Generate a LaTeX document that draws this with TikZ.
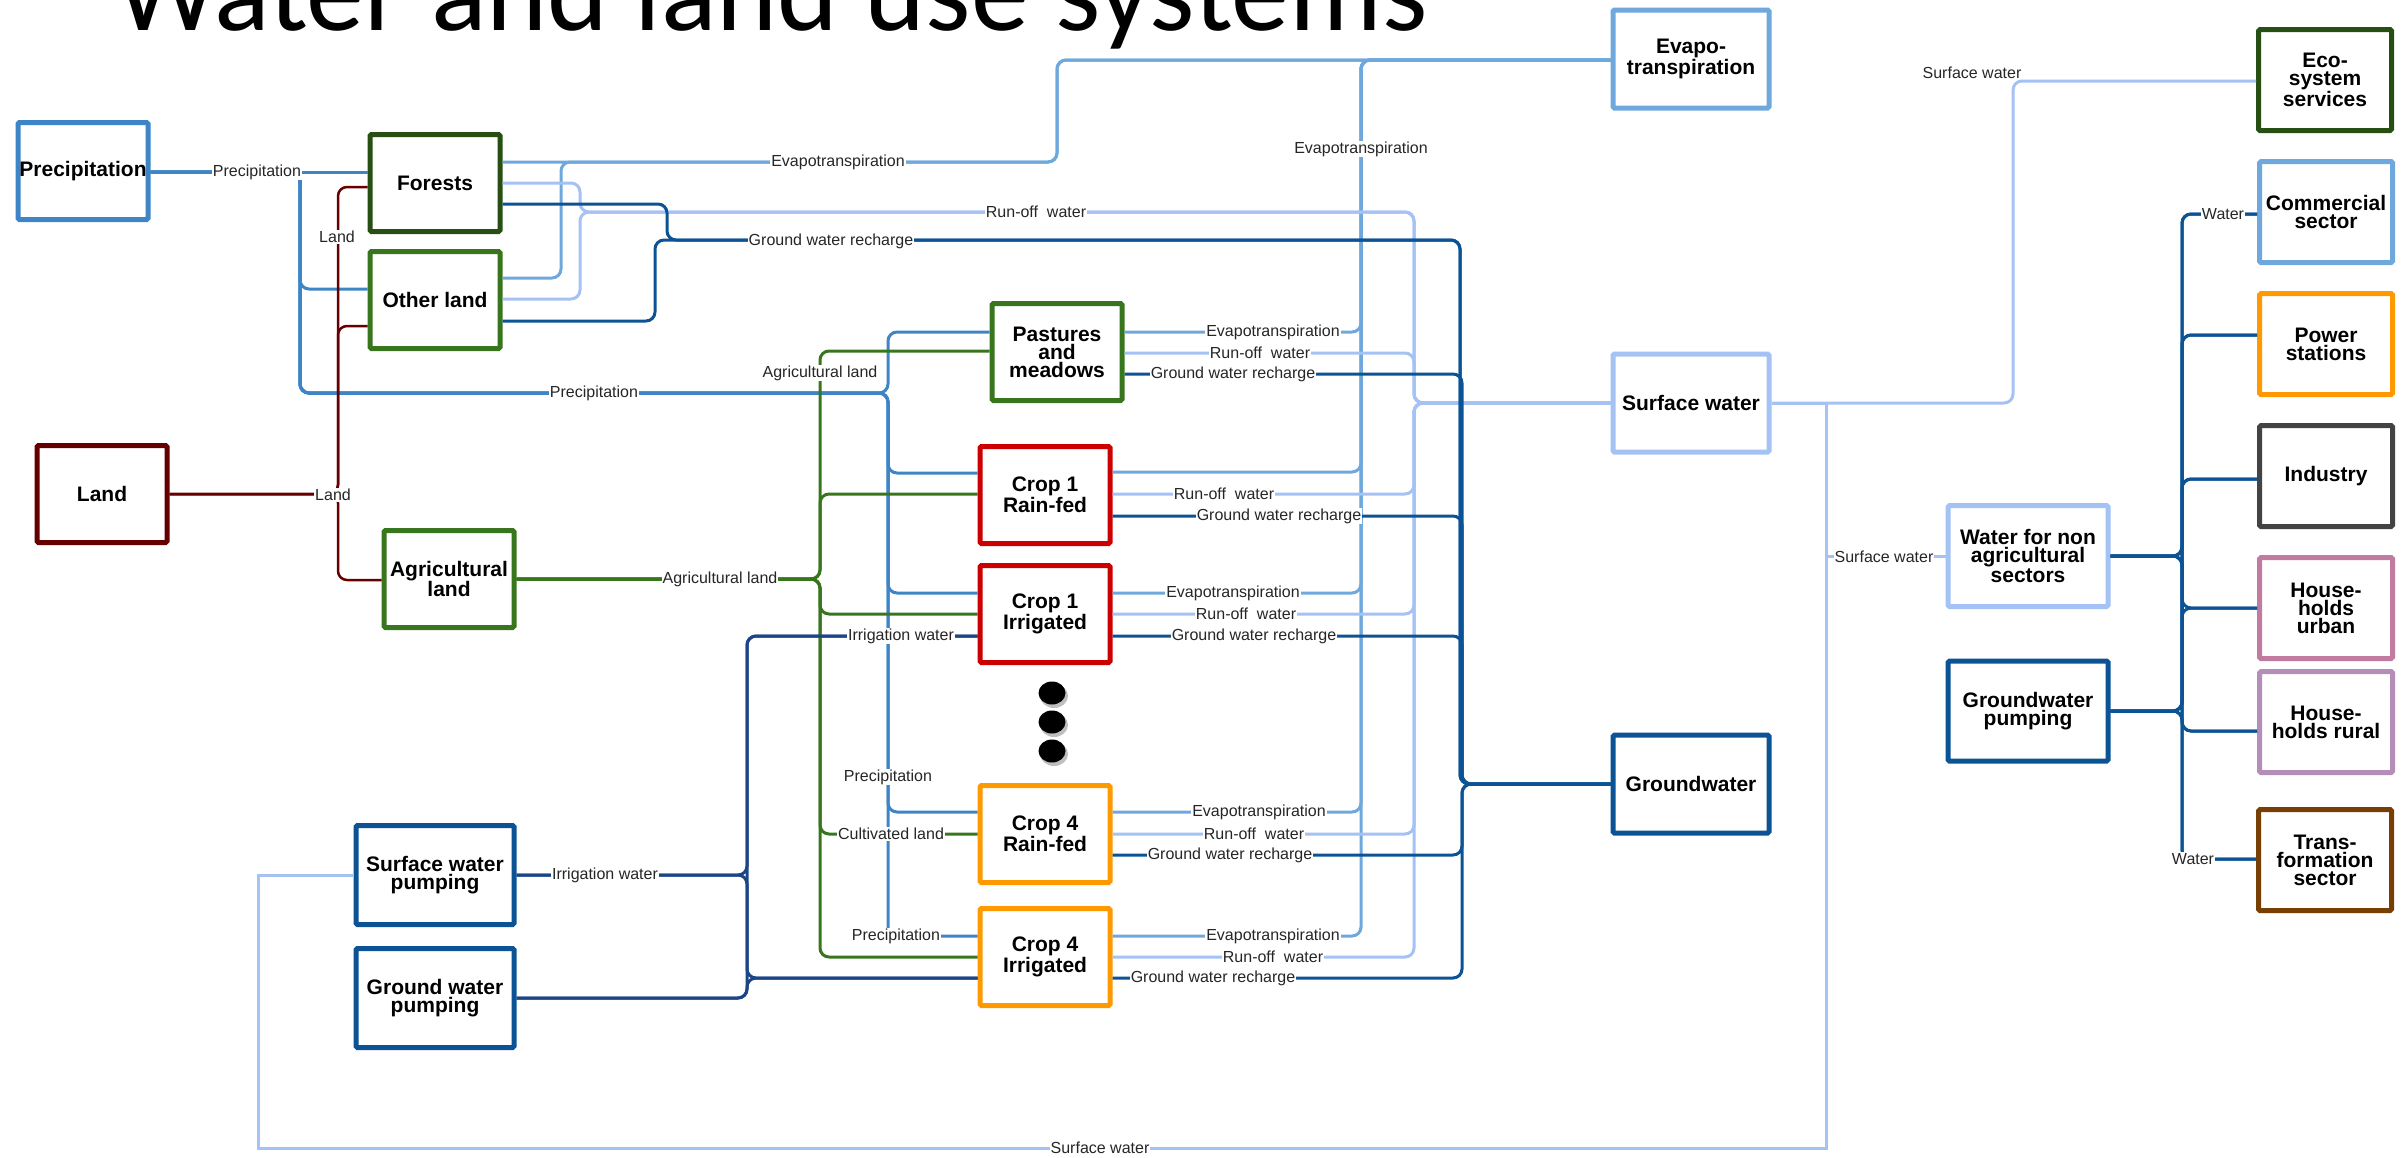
\documentclass[tikz,border=0pt]{standalone}
\usepackage{fontspec}
\setmainfont{Liberation Sans}
\newfontfamily\titlefont{Carlito}
\usepackage{xcolor}
\usepackage{tikz}
\definecolor{precipblue}{RGB}{61,133,198}
\definecolor{evapblue}{RGB}{111,168,220}
\definecolor{runoffblue}{RGB}{164,194,244}
\definecolor{gwblue}{RGB}{11,83,148}
\definecolor{irrigblue}{RGB}{28,69,135}
\definecolor{landred}{RGB}{102,0,0}
\definecolor{aggreen}{RGB}{56,118,29}
\definecolor{forestgreen}{RGB}{39,78,19}
\definecolor{cropred}{RGB}{204,0,0}
\definecolor{croporange}{RGB}{255,153,0}
\definecolor{industrygray}{RGB}{67,67,67}
\definecolor{urbanpink}{RGB}{194,123,160}
\definecolor{ruralmauve}{RGB}{180,142,184}
\definecolor{transbrown}{RGB}{120,63,4}
\newcommand{\boxfont}{\fontsize{21}{18}\selectfont\bfseries}
\newcommand{\lblfont}{\fontsize{16}{16}\selectfont}

\begin{document}
\begin{tikzpicture}[x=1pt, y=-1pt,
    sysbox/.style={draw, line width=5pt, rounded corners=1.5pt, fill=white, align=center, font=\boxfont, minimum width=130pt, minimum height=97pt, inner sep=1pt},
    lbl/.style={fill=white, inner sep=1pt, font=\lblfont, text=black!85},
    flow/.style={line width=3pt, rounded corners=9pt}
]
    \useasboundingbox (0,0) rectangle (2405,1157);
    \clip (0,0) rectangle (2405,1157);

    % Title (cut at the top)
    \node[anchor=base west, inner sep=0pt] (title) at (115,30) {\resizebox{1311pt}{!}{\titlefont Water and land use systems}};

    % Sources
    \node[sysbox, draw=precipblue] (precip) at (83,171) {Precipitation};
    \node[sysbox, draw=landred] (land) at (102,494) {Land};

    % Land cover
    \node[sysbox, draw=forestgreen] (forests) at (435,183) {Forests};
    \node[sysbox, draw=aggreen] (otherland) at (435,300) {Other land};
    \node[sysbox, draw=aggreen] (agland) at (449,579) {Agricultural\\land};

    % Irrigation pumping
    \node[sysbox, draw=gwblue, minimum width=158pt, minimum height=99pt] (swpump) at (435,875) {Surface water\\pumping};
    \node[sysbox, draw=gwblue, minimum width=158pt, minimum height=99pt] (gwpump) at (435,998) {Ground water\\pumping};

    % Land uses
    \node[sysbox, draw=aggreen] (pastures) at (1057,352) {Pastures\\and\\meadows};
    \node[sysbox, draw=cropred] (crop1rf) at (1045,495) {Crop 1\\Rain-fed};
    \node[sysbox, draw=cropred] (crop1irr) at (1045,614) {Crop 1\\Irrigated};
    \node[sysbox, draw=croporange] (crop4rf) at (1045,834) {Crop 4\\Rain-fed};
    \node[sysbox, draw=croporange] (crop4irr) at (1045,957) {Crop 4\\Irrigated};

    % More crops
    \foreach \y in {693, 722, 751} {
        \fill[black, opacity=0.25] (1054,\y+3) ellipse [x radius=14pt, y radius=12pt];
        \fill[black] (1052,\y) ellipse [x radius=13.5pt, y radius=11.5pt];
    }

    % Water balance
    \node[sysbox, draw=evapblue, minimum width=156pt, minimum height=98pt] (evapo) at (1691,59) {Evapo-\\transpiration};
    \node[sysbox, draw=runoffblue, minimum width=156pt, minimum height=98pt] (surfw) at (1691,403) {Surface water};
    \node[sysbox, draw=gwblue, minimum width=156pt, minimum height=98pt] (groundw) at (1691,784) {Groundwater};

    % Non agricultural water
    \node[sysbox, draw=runoffblue, minimum width=160pt, minimum height=101pt] (wnas) at (2028,556) {Water for non\\agricultural\\sectors};
    \node[sysbox, draw=gwblue, minimum width=160pt, minimum height=100pt] (gwpumpr) at (2028,711) {Groundwater\\pumping};

    % Users (right)
    \node[sysbox, draw=forestgreen, minimum width=133pt, minimum height=101pt] (eco) at (2325,80) {Eco-\\system\\services};
    \node[sysbox, draw=evapblue, minimum width=133pt, minimum height=101pt] (commercial) at (2326,212) {Commercial\\sector};
    \node[sysbox, draw=croporange, minimum width=133pt, minimum height=101pt] (power) at (2326,344) {Power\\stations};
    \node[sysbox, draw=industrygray, minimum width=133pt, minimum height=101pt] (industry) at (2326,476) {Industry};
    \node[sysbox, draw=urbanpink, minimum width=133pt, minimum height=101pt] (hhurban) at (2326,608) {House-\\holds\\urban};
    \node[sysbox, draw=ruralmauve, minimum width=133pt, minimum height=101pt] (hhrural) at (2326,722) {House-\\holds rural};
    \node[sysbox, draw=transbrown, minimum width=133pt, minimum height=101pt] (transform) at (2325,860) {Trans-\\formation\\sector};

    % Precipitation
    \draw[flow, precipblue] (precip.east |- 0,172) -- (forests.west |- 0,172);
    \draw[flow, precipblue] (precip.east |- 0,172) -- (300,172) -- (300,289) -- (otherland.west |- 0,289);
    \foreach \n/\y in {pastures/332, crop1rf/473, crop1irr/593, crop4rf/812, crop4irr/936}
        \draw[flow, precipblue] (precip.east |- 0,172) -- (300,172) -- (300,393) -- (888,393) -- (888,\y) -- (\n.west |- 0,\y);

    % Land
    \foreach \n/\y in {forests/187, otherland/326, agland/580}
        \draw[flow, landred, line width=2.5pt] (land.east) -- (338,494) -- (338,\y) -- (\n.west |- 0,\y);

    % Agricultural land
    \foreach \n/\y in {pastures/351, crop1rf/494, crop1irr/614, crop4rf/834, crop4irr/957}
        \draw[flow, aggreen] (agland.east) -- (820,579) -- (820,\y) -- (\n.west |- 0,\y);

    % Irrigation water
    \foreach \src/\ys in {swpump/875, gwpump/998}
        \foreach \tgt/\yt in {crop1irr/636, crop4irr/978}
            \draw[flow, irrigblue] (\src.east |- 0,\ys) -- (747,\ys) -- (747,\yt) -- (\tgt.west |- 0,\yt);

    % Evapotranspiration
    \draw[flow, evapblue] (forests.east |- 0,162) -- (1057,162) -- (1057,60) -- (evapo.west |- 0,60);
    \draw[flow, evapblue] (otherland.east |- 0,278) -- (561,278) -- (561,162) -- (1057,162) -- (1057,60) -- (evapo.west |- 0,60);
    \foreach \n/\y in {pastures/332, crop1rf/472, crop1irr/593, crop4rf/812, crop4irr/936}
        \draw[flow, evapblue] (\n.east |- 0,\y) -- (1361,\y) -- (1361,60) -- (evapo.west |- 0,60);

    % Run-off water
    \draw[flow, runoffblue] (forests.east |- 0,183) -- (580,183) -- (580,212) -- (1414,212) -- (1414,403) -- (surfw.west);
    \draw[flow, runoffblue] (otherland.east |- 0,299) -- (580,299) -- (580,212) -- (1414,212) -- (1414,403) -- (surfw.west);
    \foreach \n/\y in {pastures/353, crop1rf/494, crop1irr/614, crop4rf/834, crop4irr/957}
        \draw[flow, runoffblue] (\n.east |- 0,\y) -- (1414,\y) -- (1414,403) -- (surfw.west);

    % Ground water recharge
    \draw[flow, gwblue] (forests.east |- 0,204) -- (667,204) -- (667,240) -- (1460,240) -- (1460,784) -- (groundw.west);
    \draw[flow, gwblue] (otherland.east |- 0,321) -- (655,321) -- (655,240) -- (1460,240) -- (1460,784) -- (groundw.west);
    \foreach \n/\y in {pastures/374, crop1rf/516, crop1irr/636, crop4rf/855, crop4irr/978}
        \draw[flow, gwblue] (\n.east |- 0,\y) -- (1462,\y) -- (1462,784) -- (groundw.west);

    % Surface water
    \draw[flow, runoffblue] (surfw.east) -- (2013,403) -- (2013,81) -- (eco.west |- 0,81);
    \draw[line width=3pt, runoffblue] (surfw.east) -- (1826,403) -- (1826,556) -- (wnas.west);
    \draw[line width=3pt, runoffblue] (surfw.east) -- (1826,403) -- (1826,1148) -- (258,1148) -- (258,875) -- (swpump.west);

    % Water for non agricultural sectors
    \foreach \src in {wnas, gwpumpr}
        \foreach \tgt/\yt in {commercial/214, power/335, industry/479, hhurban/608, hhrural/731, transform/859}
            \draw[flow, gwblue] (\src.east) -- (\src.east -| 2182,0) -- (2182,\yt) -- (\tgt.west |- 0,\yt);

    % Labels
    \node[lbl] (lPrecA) at (257,172) {Precipitation};
    \node[lbl] (lPrecB) at (594,393) {Precipitation};
    \node[lbl] (lPrecC) at (888,777) {Precipitation};
    \node[lbl] (lPrecD) at (896,936) {Precipitation};
    \node[lbl] (lLandA) at (337,237) {Land};
    \node[lbl] (lLandB) at (333,495) {Land};
    \node[lbl] (lAgA) at (720,579) {Agricultural land};
    \node[lbl] (lAgB) at (820,373) {Agricultural land};
    \node[lbl] (lCult) at (891,834) {Cultivated land};
    \node[lbl] (lIrrA) at (605,875) {Irrigation water};
    \node[lbl] (lIrrB) at (901,636) {Irrigation water};
    \node[lbl] (lEvapA) at (838,162) {Evapotranspiration};
    \node[lbl] (lEvapB) at (1361,149) {Evapotranspiration};
    \node[lbl] (lRunA) at (1036,212) {Run-off~~water};
    \node[lbl] (lGwA) at (831,241) {Ground water recharge};
    % pastures
    \node[lbl] (lEvapP) at (1273,332) {Evapotranspiration};
    \node[lbl] (lRunP) at (1260,353) {Run-off~~water};
    \node[lbl] (lGwP) at (1233,374) {Ground water recharge};
    % crop 1
    \node[lbl] (lRunC1) at (1224,494) {Run-off~~water};
    \node[lbl] (lGwC1) at (1279,516) {Ground water recharge};
    \node[lbl] (lEvapI1) at (1233,593) {Evapotranspiration};
    \node[lbl] (lRunI1) at (1246,614) {Run-off~~water};
    \node[lbl] (lGwI1) at (1254,636) {Ground water recharge};
    % crop 4
    \node[lbl] (lEvapC4) at (1259,812) {Evapotranspiration};
    \node[lbl] (lRunC4) at (1254,834) {Run-off~~water};
    \node[lbl] (lGwC4) at (1230,855) {Ground water recharge};
    \node[lbl] (lEvapI4) at (1273,936) {Evapotranspiration};
    \node[lbl] (lRunI4) at (1273,957) {Run-off~~water};
    \node[lbl] (lGwI4) at (1213,978) {Ground water recharge};
    % surface water and users
    \node[lbl] (lSwA) at (1100,1148) {Surface water};
    \node[lbl] (lSwB) at (1884,557) {Surface water};
    \node[font=\lblfont, text=black!85, inner sep=0pt] (lSwC) at (1972,73) {Surface water};
    \node[lbl] (lWaterA) at (2223,214) {Water};
    \node[lbl] (lWaterB) at (2193,859) {Water};
\end{tikzpicture}
\end{document}
